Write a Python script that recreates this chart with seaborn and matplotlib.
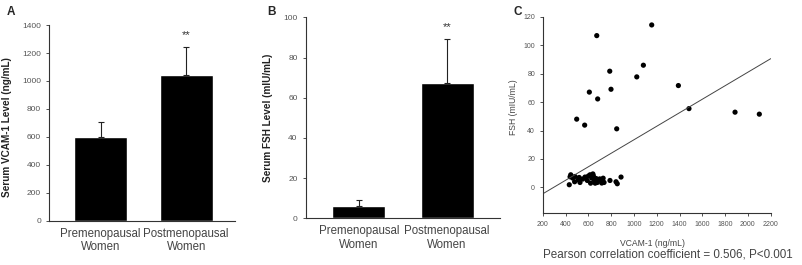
import numpy as np
import pandas as pd
import matplotlib
matplotlib.use("Agg")
import matplotlib.pyplot as plt
import seaborn as sns

# 柱状图数据（均值 + 标准差）
groups = ["Premenopausal\nWomen", "Postmenopausal\nWomen"]
vcam_mean = [596, 1040]
vcam_sd = [112, 200]
fsh_mean = [6.3, 67.3]
fsh_sd = [3.0, 22.0]

# 散点图数据：VCAM-1 与 FSH
vcam_pts = [1156, 674, 1083, 1025, 788, 799, 609, 682, 498, 568, 849,
            1390, 1483, 1887, 2100,
            433, 446, 463, 483, 512, 527, 551, 571, 591, 615, 630, 644,
            653, 668, 679, 697, 718, 726, 738, 790, 843, 854, 887,
            440, 520, 600, 620, 640, 660, 700, 720, 730, 480]
fsh_pts = [114.2, 106.7, 85.9, 77.7, 81.7, 69.0, 67.0, 62.2, 48.0, 43.8, 41.2,
           71.6, 55.4, 52.9, 51.5,
           1.9, 8.9, 6.6, 7.7, 5.4, 3.5, 5.9, 7.3, 4.9, 8.9, 6.6, 8.2,
           4.9, 6.3, 3.5, 5.4, 3.1, 4.9, 3.5, 4.9, 4.0, 2.6, 7.3,
           7.5, 7.0, 8.0, 3.0, 9.5, 3.0, 6.0, 5.5, 6.5, 4.0]

# 回归线端点
fit_x = [200, 2200]
fit_y = [-4.5, 90.5]

sns.set_style("ticks")
plt.rcParams["font.family"] = ["Liberation Sans", "DejaVu Sans"]

fig = plt.figure(figsize=(8.02, 2.65), dpi=100)
ax_a = fig.add_axes([0.0615, 0.167, 0.2315, 0.7385])
ax_b = fig.add_axes([0.3815, 0.176, 0.242, 0.7585])
ax_c = fig.add_axes([0.6767, 0.196, 0.2843, 0.741])

spine_col = "#333333"
tick_col = "#555555"


def bar_panel(ax, means, sds, ylim, yticks, ylabel, star_y, xlim, width):
    df = pd.DataFrame({"group": groups, "value": means})
    sns.barplot(data=df, x="group", y="value", color="black", ax=ax,
                width=width, saturation=1, errorbar=None)
    ax.errorbar(range(len(means)), means, yerr=[[0] * len(sds), sds],
                fmt="none", ecolor="#222222", elinewidth=0.8, capsize=2.5,
                capthick=0.8)
    ax.text(1, star_y, "**", ha="center", va="center", fontsize=8, color="#333333")
    ax.set_ylim(*ylim)
    ax.set_yticks(yticks)
    ax.set_xlim(*xlim)
    ax.set_xlabel("")
    ax.set_ylabel(ylabel, fontsize=7.2, fontweight="bold", color="#222222")
    ax.tick_params(axis="y", labelsize=6, labelcolor=tick_col, length=2.5,
                   width=0.6, color=spine_col, direction="out")
    ax.tick_params(axis="x", labelsize=8.3, labelcolor="#444444", length=0, pad=5)
    sns.despine(ax=ax)
    for s in ["left", "bottom"]:
        ax.spines[s].set_color(spine_col)
        ax.spines[s].set_linewidth(0.8)


bar_panel(ax_a, vcam_mean, vcam_sd, (0, 1400), np.arange(0, 1401, 200),
          "Serum VCAM-1 Level (ng/mL)", 1328, (-0.6, 1.57), 0.62)
ax_a.yaxis.set_label_coords(-0.2, 0.48)

bar_panel(ax_b, fsh_mean, fsh_sd, (0, 100), np.arange(0, 101, 20),
          "Serum FSH Level (mIU/mL)", 95, (-0.6, 1.6), 0.6)
ax_b.yaxis.set_label_coords(-0.17, 0.5)

# 散点图 + 回归线
sns.scatterplot(x=vcam_pts, y=fsh_pts, color="black", s=14, edgecolor="none",
                ax=ax_c)
sns.lineplot(x=fit_x, y=fit_y, color="#444444", lw=0.7, ax=ax_c)
ax_c.set_xlim(200, 2200)
ax_c.set_ylim(-18, 120)
ax_c.set_xticks(np.arange(200, 2201, 200))
ax_c.set_yticks(np.arange(0, 121, 20))
ax_c.set_xlabel("VCAM-1 (ng/mL)", fontsize=6.2, color="#444444")
ax_c.set_ylabel("FSH (mIU/mL)", fontsize=6.2, color="#444444")
ax_c.xaxis.set_label_coords(0.48, -0.132)
ax_c.yaxis.set_label_coords(-0.108, 0.54)
ax_c.tick_params(labelsize=5, labelcolor=tick_col, length=2, width=0.6,
                 color=spine_col, direction="out")
sns.despine(ax=ax_c)
for s in ["left", "bottom"]:
    ax_c.spines[s].set_color(spine_col)
    ax_c.spines[s].set_linewidth(0.8)

fig.text(543 / 802, 0.0415, "Pearson correlation coefficient = 0.506, P<0.001",
         fontsize=8.4, color="#444444", ha="left", va="center")

# 面板标签
for lab, px in [("A", 7), ("B", 267), ("C", 513)]:
    fig.text(px / 802, 1 - 12 / 265, lab, fontsize=8.5, fontweight="bold",
             ha="left", va="center")

fig.savefig("out.png", dpi=100)
